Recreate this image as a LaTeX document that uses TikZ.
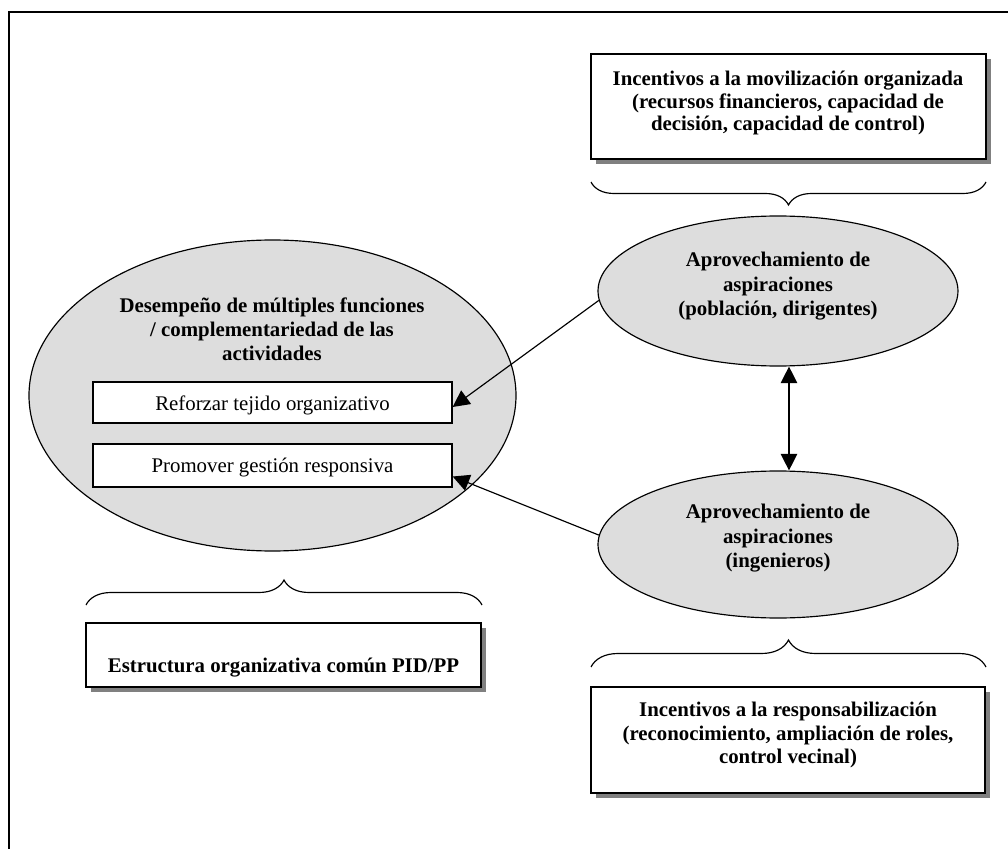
\documentclass[tikz,border=0pt]{standalone}
\usepackage{fontspec}
\setmainfont{Liberation Serif}
\usetikzlibrary{arrows.meta,shapes.geometric,shadows,fit,calc,decorations.pathreplacing}
\definecolor{ellgray}{RGB}{221,221,221}
\definecolor{shadowgray}{RGB}{128,128,128}
\begin{document}
\begin{tikzpicture}[x=0.6pt,y=-0.6pt,
  frameline/.style={line width=1pt},
  shadowbox/.style={draw, line width=0.9pt, fill=white, inner sep=0pt,
    drop shadow={shadow xshift=3pt, shadow yshift=-3pt, fill=shadowgray, opacity=1}},
  plainbox/.style={draw, line width=0.8pt, fill=white, inner sep=0pt},
  bubble/.style={ellipse, draw, line width=0.7pt, fill=ellgray, inner sep=0pt},
  boldtxt/.style={align=center, inner sep=0pt, font=\fontsize{12.5}{#1}\selectfont\bfseries},
  boldtxt/.default=14.2pt,
  regtxt/.style={inner sep=0pt, font=\fontsize{12.5}{14.2}\selectfont},
  tip/.style={Triangle[length=10pt,width=10pt]},
  conn/.style={line width=0.7pt, -{Triangle[length=10pt,width=10pt]}},
  dconn/.style={line width=0.7pt, {Triangle[length=10pt,width=10pt]}-{Triangle[length=10pt,width=10pt]}},
  bracestyle/.style={line width=0.7pt, decorate, decoration={brace, amplitude=#1}},
]
\useasboundingbox (0,0) rectangle (1008,849);

% outer frame (left and top edges)
\coordinate (frA) at (9,849);
\coordinate (frB) at (9,12);
\coordinate (frC) at (1008,12);
\draw[frameline] (frA) -- (frB) -- (frC);

% top right box
\node[shadowbox, fit={(591,54)(986,159)}] (topbox) {};
\node[boldtxt=13.5pt, anchor=north] (toptxt) at (788,71)
  {Incentivos a la movilización organizada\\(recursos financieros, capacidad de\\decisión, capacidad de control)};

% top brace (tip down)
\coordinate (tbR) at (986,182);
\coordinate (tbL) at (591,182);
\draw[bracestyle=13.8pt] (tbR) -- (tbL);

% big left ellipse
\node[bubble, minimum width=292.2pt, minimum height=186.6pt] (big) at (272.5,395.5) {};
\node[boldtxt=14.4pt, anchor=north] (bigtxt) at (272,297)
  {Desempeño de múltiples funciones\\/ complementariedad de las\\actividades};
\node[plainbox, fit={(93,382)(452,423)}] (b1) {};
\node[regtxt, anchor=base] (b1txt) at (272.5,410) {Reforzar tejido organizativo};
\node[plainbox, fit={(93,444)(452,487)}] (b2) {};
\node[regtxt, anchor=base] (b2txt) at (272.5,473) {Promover gestión responsiva};

% right ellipses
\node[bubble, minimum width=216pt, minimum height=90pt] (e1) at (778,291) {};
\node[boldtxt=14.7pt, anchor=north] (e1txt) at (778,252)
  {Aprovechamiento de\\aspiraciones\\(población, dirigentes)};
\node[bubble, minimum width=216pt, minimum height=88.2pt] (e2) at (778,544.5) {};
\node[boldtxt=14.7pt, anchor=north] (e2txt) at (778,504)
  {Aprovechamiento de\\aspiraciones\\(ingenieros)};

% connectors
\draw[conn] (e1.183.5) -- ($(b1.east)+(0,4.5)$);
\draw[conn] (e2.177) -- ($(b2.east)+(0,11)$);
\draw[dconn] ($(e1.south)+(11,0)$) -- ($(e2.north)+(11,0)$);

% bottom left brace (tip up) and box
\coordinate (blL) at (86,605);
\coordinate (blR) at (482,605);
\draw[bracestyle=15pt] (blL) -- (blR);
\node[shadowbox, fit={(86,623)(481,687)}] (blbox) {};
\node[boldtxt, anchor=base] (bltxt) at (283.5,672) {Estructura organizativa común PID/PP};

% bottom right brace (tip up) and box
\coordinate (brL) at (591,667);
\coordinate (brR) at (986,667);
\draw[bracestyle=16.2pt] (brL) -- (brR);
\node[shadowbox, fit={(591,687)(985,793)}] (brbox) {};
\node[boldtxt=14.1pt, anchor=north] (brtxt) at (788,702)
  {Incentivos a la responsabilización\\(reconocimiento, ampliación de roles,\\control vecinal)};
\end{tikzpicture}
\end{document}
